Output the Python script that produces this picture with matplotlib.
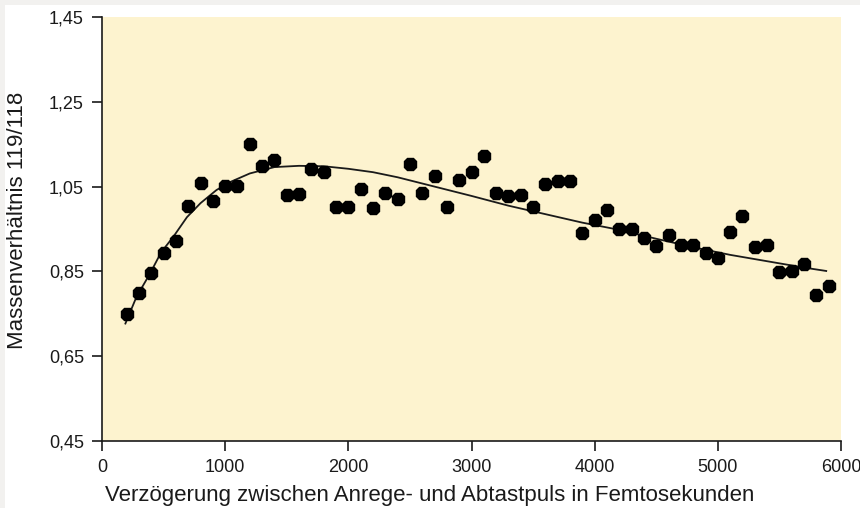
import matplotlib
matplotlib.use('Agg')
import matplotlib.pyplot as plt
from matplotlib.patches import Rectangle

# measured points (delay in fs, mass ratio 119/118)
delay = [200, 300, 400, 500, 600, 700, 800, 900, 1000, 1100,
         1200, 1300, 1400, 1500, 1600, 1700, 1800, 1900, 2000, 2100,
         2200, 2300, 2400, 2500, 2600, 2700, 2800, 2900, 3000, 3100,
         3200, 3300, 3400, 3500, 3600, 3700, 3800, 3900, 4000, 4100,
         4200, 4300, 4400, 4500, 4600, 4700, 4800, 4900, 5000, 5100,
         5200, 5300, 5400, 5500, 5600, 5700, 5800, 5900]
ratio = [0.749, 0.799, 0.846, 0.893, 0.922, 1.004, 1.058, 1.016, 1.051, 1.051,
         1.150, 1.099, 1.113, 1.030, 1.032, 1.092, 1.084, 1.002, 1.002, 1.044,
         1.000, 1.035, 1.021, 1.103, 1.035, 1.075, 1.002, 1.066, 1.084, 1.122,
         1.035, 1.028, 1.030, 1.002, 1.056, 1.063, 1.063, 0.940, 0.971, 0.995,
         0.950, 0.950, 0.929, 0.910, 0.936, 0.912, 0.912, 0.893, 0.882, 0.943,
         0.981, 0.908, 0.912, 0.849, 0.851, 0.867, 0.794, 0.816]

# trend line
fit_x = [190, 280, 390, 480, 580, 690, 800, 930, 1050, 1200,
         1400, 1600, 1800, 2000, 2200, 2400, 2700, 3000, 3300, 3600,
         3900, 4200, 4500, 4800, 5100, 5400, 5700, 5880]
fit_y = [0.727, 0.790, 0.845, 0.895, 0.932, 0.978, 1.011, 1.042, 1.062, 1.081,
         1.096, 1.099, 1.098, 1.092, 1.084, 1.072, 1.050, 1.028, 1.005, 0.985,
         0.965, 0.948, 0.927, 0.907, 0.889, 0.874, 0.859, 0.851]

yticks = [0.45, 0.65, 0.85, 1.05, 1.25, 1.45]
ylabels = ['0,45', '0,65', '0,85', '1,05', '1,25', '1,45']
xticks = [0, 1000, 2000, 3000, 4000, 5000, 6000]

plt.rcParams['font.family'] = ['Liberation Sans', 'DejaVu Sans']
ink = '#1a1a1a'

fig = plt.figure(figsize=(8.6, 5.08), dpi=100, facecolor='#f2f1ef')
fig.patches.append(Rectangle((5 / 860, 0), 1, 1 - 5 / 508, transform=fig.transFigure,
                             facecolor='white', edgecolor='none', zorder=-1))
ax = fig.add_axes([102 / 860, 1 - 441 / 508, 739 / 860, 424 / 508])
ax.set_facecolor('#fdf3cf')

ax.plot(fit_x, fit_y, color=ink, lw=1.3, zorder=2)
ax.plot(delay, ratio, ls='none', marker='8', ms=10, color='black', zorder=3)

ax.set_xlim(0, 6000)
ax.set_ylim(0.45, 1.45)
ax.set_xticks(xticks)
ax.set_xticklabels([str(v) for v in xticks])
ax.set_yticks(yticks)
ax.set_yticklabels(ylabels)

for s in ['top', 'right']:
    ax.spines[s].set_visible(False)
for s in ['left', 'bottom']:
    ax.spines[s].set_color(ink)
    ax.spines[s].set_linewidth(1.2)
ax.tick_params(direction='out', length=7, width=1.2, color=ink,
               labelcolor=ink, labelsize=13, pad=6)

ax.set_xlabel('Verzögerung zwischen Anrege- und Abtastpuls in Femtosekunden',
              fontsize=16, color=ink)
ax.xaxis.set_label_coords(0.5, 1 - 496 / 508, transform=fig.transFigure)
ax.xaxis.label.set_va('center')
ax.set_ylabel('Massenverhältnis 119/118', fontsize=16, color=ink)
ax.yaxis.set_label_coords(18 / 860, 1 - 220 / 508, transform=fig.transFigure)
ax.yaxis.label.set_va('center')

fig.savefig('out.png', dpi=100, facecolor=fig.get_facecolor())
